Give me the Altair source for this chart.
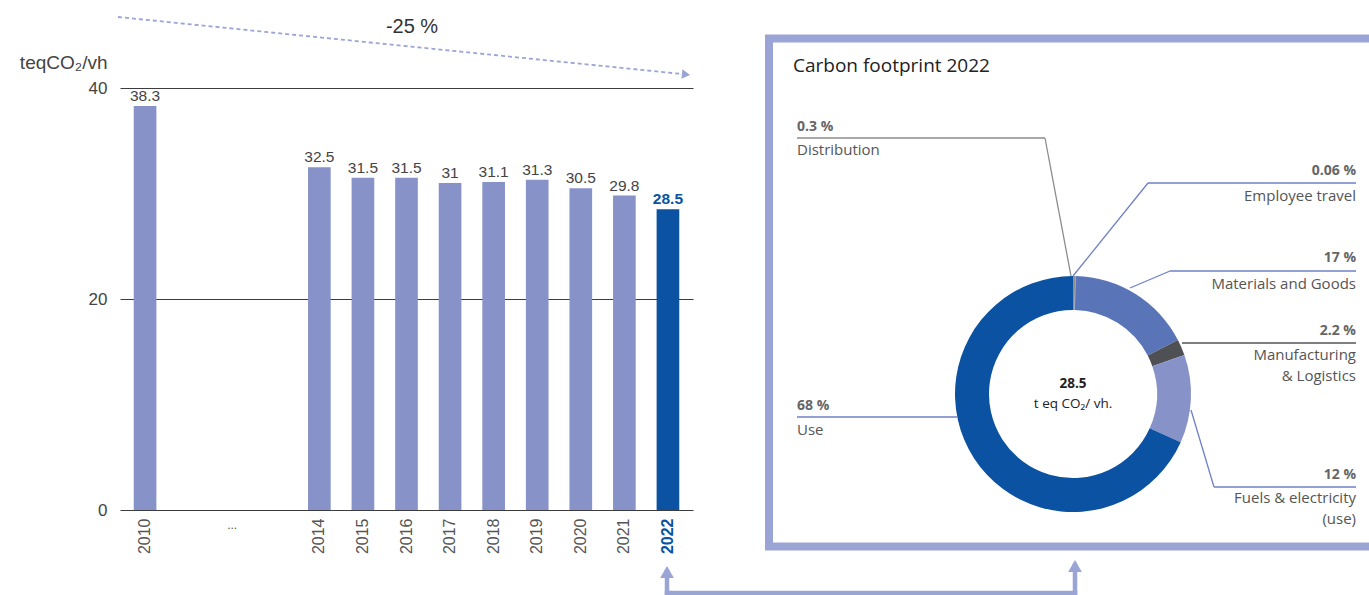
import altair as alt
import pandas as pd

# ---------------------------------------------------------------------------
# Data
# ---------------------------------------------------------------------------
# Carbon intensity per vehicle (teqCO2 / vh)
years = ["2010", "2014", "2015", "2016", "2017", "2018", "2019", "2020", "2021", "2022"]
emissions = [38.3, 32.5, 31.5, 31.5, 31.0, 31.1, 31.3, 30.5, 29.8, 28.5]
year_axis = [str(y) for y in range(2010, 2023)]
gap_year = "2012"
y_ticks = [0, 20, 40]
reduction_label = "-25 %"

# 2022 footprint breakdown (% of total), clockwise from the top
segments = ["Distribution", "Employee travel", "Materials and Goods",
            "Manufacturing & Logistics", "Fuels & electricity (use)", "Use"]
shares = [0.3, 0.06, 17, 2.2, 12, 68]
total_value = "28.5"
total_unit = "t eq CO₂/ vh."
panel_title = "Carbon footprint 2022"

# ---------------------------------------------------------------------------
# Style and layout
# ---------------------------------------------------------------------------
BAR = "#8792c9"
BLUE = "#0b52a2"
LAV = "#9ba5d5"
LEAD = "#6f80c6"
seg_colors = ["#8f8f8f", "#8e9ad2", "#5a74b8", "#4e5053", "#8792c9", BLUE]

LEFT_FONT = "Liberation Sans"
RIGHT_FONT = "Open Sans"

W, H = 1369, 595
OX, OY = 120, 88          # top-left corner of the bar plot area on the canvas
PW, PH = 573, 422         # bar plot area size

DONUT_CX, DONUT_CY = 1073, 394
R_OUT, R_IN = 118, 84


def shift(df, xs=("x", "x2"), ys=("y", "y2")):
    """Canvas coordinates -> plot-area coordinates."""
    df = df.copy()
    for c in xs:
        if c in df:
            df[c] = df[c] - OX
    for c in ys:
        if c in df:
            df[c] = df[c] - OY
    return df


def pct(v):
    return f"{v:g} %"


# leader polylines (canvas px) and stroke colour per segment
leaders = {
    "Distribution": ([(1071, 276), (1045, 138), (797, 138)], "#8c8c8c"),
    "Employee travel": ([(1073, 276), (1148, 183), (1356, 183)], LEAD),
    "Materials and Goods": ([(1130, 288), (1170, 271), (1356, 271)], LEAD),
    "Manufacturing & Logistics": ([(1182, 343), (1356, 343)], "#555555"),
    "Fuels & electricity (use)": ([(1191, 410), (1214, 487), (1356, 487)], LEAD),
    "Use": ([(957, 417), (797, 417)], LEAD),
}
label_layout = {
    # segment: (side, x, pct y, [(name line, y), ...])
    "Distribution": ("left", 797, 127, [("Distribution", 150)]),
    "Employee travel": ("right", 1356, 171, [("Employee travel", 196)]),
    "Materials and Goods": ("right", 1356, 258, [("Materials and Goods", 284)]),
    "Manufacturing & Logistics": ("right", 1356, 331, [("Manufacturing", 355), ("& Logistics", 376)]),
    "Fuels & electricity (use)": ("right", 1356, 475, [("Fuels & electricity", 498), ("(use)", 519)]),
    "Use": ("left", 797, 406, [("Use", 430)]),
}

# ---------------------------------------------------------------------------
# Bar chart
# ---------------------------------------------------------------------------
bars_df = pd.DataFrame({"year": years, "value": emissions})

x_enc = alt.X(
    "year:O",
    scale=alt.Scale(domain=year_axis, paddingInner=0.48, paddingOuter=0.315),
    axis=alt.Axis(
        title=None, labelAngle=-90, labelPadding=8, domain=False, ticks=False,
        labelFont=LEFT_FONT, labelFontSize=16,
        labelExpr="indexof(['2011','2012','2013'], datum.value) >= 0 ? '' : datum.value",
        labelColor={"condition": {"test": "datum.value == '2022'", "value": BLUE}, "value": "#555555"},
        labelFontWeight={"condition": {"test": "datum.value == '2022'", "value": "bold"}, "value": "normal"},
    ),
)
y_enc = alt.Y(
    "value:Q",
    scale=alt.Scale(domain=[0, 40], nice=False),
    axis=alt.Axis(
        values=y_ticks, grid=True, gridColor="#3c3c3c", gridWidth=1,
        domain=False, ticks=False, labelPadding=13,
        labelFont=LEFT_FONT, labelFontSize=17, labelColor="#444444",
        title="teqCO₂/vh", titleAngle=0, titleAlign="right", titleBaseline="middle",
        titleX=-13, titleY=-26, titleFont=LEFT_FONT, titleFontSize=19,
        titleFontWeight="normal", titleColor="#444444",
    ),
)

is_last = alt.datum.year == "2022"

bars = alt.Chart(bars_df).mark_bar().encode(
    x=x_enc, y=y_enc,
    color=alt.condition(is_last, alt.value(BLUE), alt.value(BAR)),
)
bar_labels = alt.Chart(bars_df).transform_filter(~is_last).mark_text(
    baseline="bottom", dy=-2, font=LEFT_FONT, fontSize=15.5, color="#444444"
).encode(x="year:O", y="value:Q", text=alt.Text("value:Q", format=".1~f"))
bar_label_last = alt.Chart(bars_df).transform_filter(is_last).mark_text(
    baseline="bottom", dy=-2, font=LEFT_FONT, fontSize=15.5, fontWeight="bold", color=BLUE
).encode(x="year:O", y="value:Q", text=alt.Text("value:Q", format=".1~f"))

ellipsis = alt.Chart(pd.DataFrame({"year": [gap_year], "t": ["..."]})).mark_text(
    font=LEFT_FONT, fontSize=12, color="#555555", baseline="alphabetic"
).encode(x="year:O", y=alt.value(529 - OY), text="t:N")

# ---------------------------------------------------------------------------
# Annotations drawn in pixel space
# ---------------------------------------------------------------------------
PX = dict(scale=None, axis=None)


def rules(df, **mark):
    return alt.Chart(shift(df)).mark_rule(**mark).encode(
        x=alt.X("x:Q", **PX), x2="x2:Q",
        y=alt.Y("y:Q", **PX), y2="y2:Q",
    )


def texts(df, **mark):
    return alt.Chart(shift(df)).mark_text(**mark).encode(
        x=alt.X("x:Q", **PX), y=alt.Y("y:Q", **PX), text="t:N"
    )


def points(df, **mark):
    return alt.Chart(shift(df)).mark_point(filled=True, opacity=1, **mark).encode(
        x=alt.X("x:Q", **PX), y=alt.Y("y:Q", **PX)
    )


# trend arrow over the bars
trend_line = rules(pd.DataFrame({"x": [118], "y": [17], "x2": [682], "y2": [74]}),
                   color=LAV, strokeWidth=1.8, strokeDash=[4, 3])
trend_head = points(pd.DataFrame({"x": [686], "y": [74.5]}),
                    shape="triangle-right", size=90, angle=6, color=LAV)
trend_text = texts(pd.DataFrame({"x": [412], "y": [27], "t": [reduction_label]}),
                   font=LEFT_FONT, fontSize=20, color="#333333", baseline="middle")

# panel frame
frame = alt.Chart(shift(pd.DataFrame({"x": [769], "x2": [1390], "y": [38.5], "y2": [546.5]}))).mark_rect(
    fill="white", fillOpacity=0, stroke=LAV, strokeWidth=8
).encode(x=alt.X("x:Q", **PX), x2="x2:Q", y=alt.Y("y:Q", **PX), y2="y2:Q")

# connector from the 2022 bar to the panel
connector = rules(pd.DataFrame({
    "x": [667, 667, 1075], "y": [572, 593, 593],
    "x2": [667, 1075, 1075], "y2": [593, 593, 566],
}), color=LAV, strokeWidth=4.5, strokeCap="square")
connector_heads = points(pd.DataFrame({"x": [667, 1075], "y": [572, 566]}),
                         shape="triangle-up", size=190, color=LAV)

title = texts(pd.DataFrame({"x": [793], "y": [66], "t": [panel_title]}),
              font=RIGHT_FONT, fontSize=19, color="#222222", align="left", baseline="middle")

# ---------------------------------------------------------------------------
# Donut
# ---------------------------------------------------------------------------
donut_df = pd.DataFrame({"segment": segments, "share": shares, "idx": range(len(segments))})
donut = alt.Chart(donut_df).mark_arc(innerRadius=R_IN, outerRadius=R_OUT).encode(
    theta=alt.Theta("share:Q", stack=True),
    order=alt.Order("idx:Q"),
    color=alt.Color("segment:N", scale=alt.Scale(domain=segments, range=seg_colors), legend=None),
    x=alt.value(DONUT_CX - OX), y=alt.value(DONUT_CY - OY),
)
center_value = texts(pd.DataFrame({"x": [DONUT_CX], "y": [384], "t": [total_value]}),
                     font=RIGHT_FONT, fontSize=13.5, fontWeight="bold", color="#222222", baseline="middle")
center_unit = texts(pd.DataFrame({"x": [DONUT_CX], "y": [404], "t": [total_unit]}),
                    font=RIGHT_FONT, fontSize=13.5, color="#222222", baseline="middle")

# leader lines, one layer per stroke colour
lead_rows = []
for seg in segments:
    pts, col = leaders[seg]
    for (x1, y1), (x2, y2) in zip(pts[:-1], pts[1:]):
        lead_rows.append({"x": x1, "y": y1, "x2": x2, "y2": y2, "c": col})
lead_df = pd.DataFrame(lead_rows)
lead_layers = [rules(lead_df[lead_df.c == c].drop(columns="c"), color=c, strokeWidth=1.3)
               for c in lead_df.c.unique()]

# labels
pct_rows, name_rows = [], []
for seg, val in zip(segments, shares):
    side, x, py, names = label_layout[seg]
    pct_rows.append({"x": x, "y": py, "t": pct(val), "side": side})
    for line, ny in names:
        name_rows.append({"x": x, "y": ny, "t": line, "side": side})
pct_df = pd.DataFrame(pct_rows)
name_df = pd.DataFrame(name_rows)

label_layers = []
for side in ["left", "right"]:
    label_layers.append(texts(pct_df[pct_df.side == side].drop(columns="side"),
                              font=RIGHT_FONT, fontSize=14, fontWeight="bold",
                              color="#666666", align=side, baseline="middle"))
    label_layers.append(texts(name_df[name_df.side == side].drop(columns="side"),
                              font=RIGHT_FONT, fontSize=15, color="#555555",
                              align=side, baseline="middle"))

chart = alt.layer(
    bars, bar_labels, bar_label_last, ellipsis,
    trend_line, trend_head, trend_text,
    frame, connector, connector_heads, title,
    donut, *lead_layers, center_value, center_unit, *label_layers,
).properties(
    width=PW, height=PH,
    padding={"left": OX, "top": OY, "right": W - OX - PW, "bottom": H - OY - PH},
    autosize=alt.AutoSizeParams(type="none"),
    background="white",
).configure_view(stroke=None)

chart.save("out.html", embed_options={"renderer": "svg", "actions": False})
